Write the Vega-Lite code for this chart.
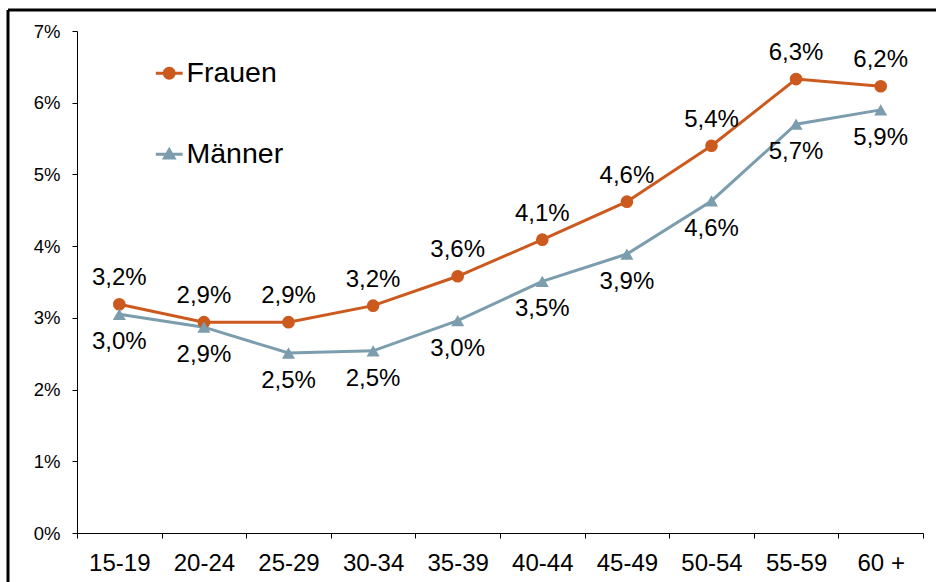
{
  "$schema": "https://vega.github.io/schema/vega-lite/v6.json",
  "width": 928,
  "height": 572,
  "autosize": {"type": "none"},
  "padding": {"left": 8, "top": 10, "right": 0, "bottom": 0},
  "background": "white",
  "view": {"stroke": "#000", "strokeWidth": 3, "strokeDash": [928, 1500, 572, 0]},
  "config": {
    "locale": {"number": {"decimal": ",", "thousands": ".", "grouping": [3], "currency": ["", " €"]}},
    "font": "Liberation Sans",
    "axis": {"domainColor": "#000", "tickColor": "#000", "labelColor": "#000", "grid": false, "title": null, "tickSize": 5, "domainWidth": 1, "tickWidth": 1, "labelFont": "Liberation Sans"}
  },
  "data": {
    "values": [
      {"age": "15-19", "series": "Frauen", "value": 0.0319},
      {"age": "20-24", "series": "Frauen", "value": 0.0294},
      {"age": "25-29", "series": "Frauen", "value": 0.0294},
      {"age": "30-34", "series": "Frauen", "value": 0.0317},
      {"age": "35-39", "series": "Frauen", "value": 0.0358},
      {"age": "40-44", "series": "Frauen", "value": 0.0409},
      {"age": "45-49", "series": "Frauen", "value": 0.0462},
      {"age": "50-54", "series": "Frauen", "value": 0.0540},
      {"age": "55-59", "series": "Frauen", "value": 0.0633},
      {"age": "60 +", "series": "Frauen", "value": 0.0623},
      {"age": "15-19", "series": "Männer", "value": 0.0305},
      {"age": "20-24", "series": "Männer", "value": 0.0287},
      {"age": "25-29", "series": "Männer", "value": 0.0251},
      {"age": "30-34", "series": "Männer", "value": 0.0254},
      {"age": "35-39", "series": "Männer", "value": 0.0296},
      {"age": "40-44", "series": "Männer", "value": 0.0351},
      {"age": "45-49", "series": "Männer", "value": 0.0389},
      {"age": "50-54", "series": "Männer", "value": 0.0463},
      {"age": "55-59", "series": "Männer", "value": 0.0570},
      {"age": "60 +", "series": "Männer", "value": 0.0590}
    ]
  },
  "encoding": {
    "x": {
      "field": "age", "type": "ordinal", "sort": null,
      "scale": {"type": "band", "range": [69, 915], "paddingInner": 0, "paddingOuter": 0},
      "axis": {"labelAngle": 0, "tickBand": "extent", "offset": -49, "labelFontSize": 24, "labelPadding": 13}
    },
    "y": {
      "field": "value", "type": "quantitative",
      "scale": {"domain": [0, 0.07], "range": [523, 21], "nice": false},
      "axis": {"values": [0, 0.01, 0.02, 0.03, 0.04, 0.05, 0.06, 0.07], "format": ".0%", "offset": -69, "labelFontSize": 18.5, "labelPadding": 12}
    },
    "color": {
      "field": "series", "type": "nominal",
      "scale": {"domain": ["Frauen", "Männer"], "range": ["#CC5A1E", "#7C9DAD"]},
      "legend": {
        "orient": "none", "legendX": 147, "legendY": 49, "title": null,
        "labelFontSize": 28.5, "labelColor": "#000", "symbolSize": 720, "rowPadding": 52, "labelOffset": 3, "padding": 0, "symbolStrokeWidth": 0,
        "encode": {"symbols": {"update": {
          "shape": {"signal": "datum.value === 'Frauen' ? 'M-1,-0.11H1V0.11H-1Z M0.48,0A0.48,0.48 0 1,1 -0.48,0A0.48,0.48 0 1,1 0.48,0Z' : 'M-1,-0.11H1V0.11H-1Z M0,-0.55L0.55,0.4H-0.55Z'"},
          "fill": {"scale": "color", "field": "value"},
          "opacity": {"value": 1}
        }}}
      }
    }
  },
  "layer": [
    {
      "mark": {"type": "line", "strokeWidth": 3}
    },
    {
      "transform": [{"filter": "datum.series === 'Frauen'"}],
      "mark": {"type": "point", "shape": "circle", "filled": true, "size": 160, "opacity": 1}
    },
    {
      "transform": [{"filter": "datum.series === 'Männer'"}],
      "mark": {"type": "point", "shape": "triangle-up", "filled": true, "size": 170, "opacity": 1}
    },
    {
      "transform": [{"filter": "datum.series === 'Frauen'"}],
      "mark": {"type": "text", "dy": -26, "fontSize": 24, "color": "#000", "baseline": "middle"},
      "encoding": {"text": {"field": "value", "type": "quantitative", "format": ".1%"}, "color": {"value": "#000"}}
    },
    {
      "transform": [{"filter": "datum.series === 'Männer'"}],
      "mark": {"type": "text", "dy": 28, "fontSize": 24, "color": "#000", "baseline": "middle"},
      "encoding": {"text": {"field": "value", "type": "quantitative", "format": ".1%"}, "color": {"value": "#000"}}
    }
  ]
}
